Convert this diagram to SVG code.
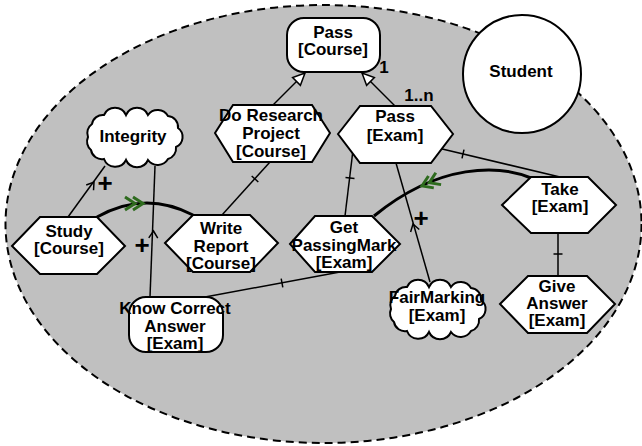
<svg xmlns="http://www.w3.org/2000/svg" xmlns:xlink="http://www.w3.org/1999/xlink" width="642" height="446" viewBox="0 0 642 446">
<style>
.node{fill:#fff;stroke:#000;stroke-width:2}
.t{font-family:"Liberation Sans",Arial,sans-serif;font-weight:bold;font-size:17px;text-anchor:middle;fill:#000}
.plus{font-family:"Liberation Sans",Arial,sans-serif;font-weight:bold;font-size:26px;text-anchor:middle;fill:#000}
.ln{fill:none;stroke:#000;stroke-width:1.5}
.thick{fill:none;stroke:#000;stroke-width:3}
.tick{stroke:#000;stroke-width:1.5}
.chev{fill:none;stroke:#2e6b1e;stroke-width:3}
.open{fill:none;stroke:#000;stroke-width:1.5}
.tri{fill:#fff;stroke:#000;stroke-width:1.5}
</style>
<defs>
<path id="cloud" d="M -42 -14 A 11 11 0 0 1 -30 -23 A 12 12 0 0 1 -8 -23 A 12 12 0 0 1 14 -23 A 12 12 0 0 1 34 -22 A 11 11 0 0 1 44 -10 A 11 11 0 0 1 42 9 A 11 11 0 0 1 34 21 A 12 12 0 0 1 14 22 A 12 12 0 0 1 -8 22 A 12 12 0 0 1 -30 21 A 11 11 0 0 1 -43 12 A 11 11 0 0 1 -46 -1 A 11 11 0 0 1 -42 -14 Z"/>
<path id="chevs" d="M -10 -6.5 L 0 0 L -10 6.5 M -18 -6.5 L -8 0 L -18 6.5"/>
<path id="openhead" d="M -7 -4.5 L 0 0 L -7 4.5"/>
<path id="hollow" d="M 0 0 L -12 -5.5 L -12 5.5 Z"/>
</defs>

<g id="boundary">
<ellipse cx="323.5" cy="224" rx="318" ry="219" fill="#c0c0c0" stroke="#000" stroke-width="2" stroke-dasharray="8 5"/>
</g>

<g id="connectors">
<line class="ln" x1="273" y1="105" x2="305" y2="73"/>
<use href="#hollow" class="tri" transform="translate(305,73) rotate(-45)"/>
<line class="ln" x1="395" y1="106" x2="362" y2="73"/>
<use href="#hollow" class="tri" transform="translate(362,73) rotate(-135)"/>
<line class="ln" x1="222" y1="215" x2="270" y2="162"/>
<line class="tick" x1="251.7" y1="176" x2="258.3" y2="182"/>
<line class="ln" x1="353" y1="150" x2="345" y2="216"/>
<line class="tick" x1="345.5" y1="177.5" x2="354.5" y2="178.5"/>
<line class="ln" x1="438" y1="148" x2="560" y2="177"/>
<line class="tick" x1="464" y1="149.6" x2="462" y2="158.4"/>
<line class="ln" x1="558" y1="233" x2="558" y2="276"/>
<line class="tick" x1="553.5" y1="254" x2="562.5" y2="254"/>
<line class="ln" x1="205" y1="297" x2="340" y2="272"/>
<line class="tick" x1="281.2" y1="278.6" x2="282.8" y2="287.4"/>
<line class="ln" x1="68" y1="217" x2="105" y2="166"/>
<use href="#openhead" class="open" transform="translate(94,182) rotate(-54)"/>
<text class="plus" x="105" y="192">+</text>
<line class="ln" x1="150" y1="297" x2="155" y2="166"/>
<use href="#openhead" class="open" transform="translate(153.5,231) rotate(-88)"/>
<text class="plus" x="142" y="254">+</text>
<line class="ln" x1="430" y1="282" x2="396" y2="163"/>
<use href="#openhead" class="open" transform="translate(413,224) rotate(-106)"/>
<text class="plus" x="421" y="227">+</text>
<path class="thick" d="M 97 217 Q 145 190 193 215"/>
<use href="#chevs" class="chev" transform="translate(143,203.5)"/>
<path class="thick" d="M 531 178 C 500 165 440 162 374 216"/>
<use href="#chevs" class="chev" transform="translate(422,186) rotate(156)"/>
</g>

<g id="student">
<circle class="node" cx="522" cy="74" r="59"/>
<text class="t" x="521" y="77">Student</text>
</g>

<g id="pass-course">
<rect class="node" x="287" y="18" width="93" height="54" rx="17"/>
<text class="t" x="333" y="38">Pass</text>
<text class="t" x="333" y="55">[Course]</text>
<text class="t" x="384" y="73">1</text>
</g>

<g id="integrity">
<use href="#cloud" class="node" transform="translate(134,138)"/>
<text class="t" x="133" y="142">Integrity</text>
</g>

<g id="do-research">
<polygon class="node" points="215,133 233,105 312,105 330,133 312,162 233,162"/>
<text class="t" x="271" y="121">Do Research</text>
<text class="t" x="271" y="139">Project</text>
<text class="t" x="271" y="157">[Course]</text>
</g>

<g id="pass-exam">
<polygon class="node" points="338,134 360,106 431,106 453,134 431,163 360,163"/>
<text class="t" x="395" y="122">Pass</text>
<text class="t" x="395" y="141">[Exam]</text>
<text class="t" x="419" y="101">1..n</text>
</g>

<g id="study">
<polygon class="node" points="12,246 40,217 97,217 125,246 97,274 40,274"/>
<text class="t" x="69" y="237">Study</text>
<text class="t" x="69" y="254">[Course]</text>
</g>

<g id="write-report">
<polygon class="node" points="165,243 193,215 250,215 278,243 250,272 193,272"/>
<text class="t" x="221" y="234">Write</text>
<text class="t" x="221" y="252">Report</text>
<text class="t" x="221" y="269">[Course]</text>
</g>

<g id="get-passingmark">
<polygon class="node" points="290,244 315,216 372,216 400,244 372,272 315,272"/>
<text class="t" x="344" y="233">Get</text>
<text class="t" x="344" y="251">PassingMark</text>
<text class="t" x="344" y="268">[Exam]</text>
</g>

<g id="take">
<polygon class="node" points="502,205 531,177 588,177 616,205 588,233 531,233"/>
<text class="t" x="560" y="195">Take</text>
<text class="t" x="560" y="212">[Exam]</text>
</g>

<g id="give-answer">
<polygon class="node" points="500,304 528,276 587,276 615,304 587,333 528,333"/>
<text class="t" x="557" y="292">Give</text>
<text class="t" x="557" y="309">Answer</text>
<text class="t" x="557" y="326">[Exam]</text>
</g>

<g id="know-correct">
<rect class="node" x="129" y="297" width="94" height="55" rx="17"/>
<text class="t" x="175" y="314">Know Correct</text>
<text class="t" x="175" y="332">Answer</text>
<text class="t" x="175" y="349">[Exam]</text>
</g>

<g id="fairmarking">
<use href="#cloud" class="node" transform="translate(437,310)"/>
<text class="t" x="437" y="303">FairMarking</text>
<text class="t" x="437" y="321">[Exam]</text>
</g>
</svg>
